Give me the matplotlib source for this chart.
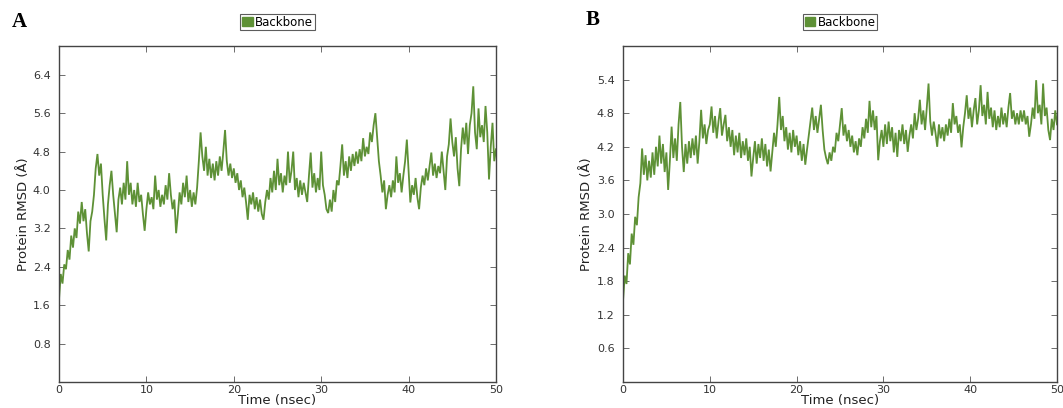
import numpy as np
import matplotlib
matplotlib.use("Agg")
import matplotlib.pyplot as plt
from matplotlib.patches import Patch

# Time axis (ns), sampled every 0.2 ns
time_ns = np.linspace(0, 50, 251)

# Panel A backbone RMSD (Å)
rmsd_a = [
    1.72, 2.25, 2.05, 2.45, 2.35, 2.75, 2.55, 3.05, 2.80, 3.20,
    3.00, 3.55, 3.30, 3.75, 3.35, 3.60, 3.10, 2.72, 3.35, 3.55,
    3.90, 4.45, 4.75, 4.30, 4.55, 3.90, 3.40, 2.95, 3.70, 4.10,
    4.40, 3.90, 3.50, 3.12, 3.80, 4.05, 3.70, 4.15, 3.80, 4.60,
    3.90, 4.15, 3.70, 4.00, 3.65, 4.15, 3.75, 3.90, 3.50, 3.15,
    3.60, 3.95, 3.70, 3.85, 3.60, 4.30, 3.80, 4.00, 3.65, 3.90,
    3.70, 4.10, 3.80, 4.35, 3.90, 3.60, 3.80, 3.10, 3.50, 3.95,
    3.70, 4.15, 3.85, 4.30, 3.75, 4.00, 3.65, 3.95, 3.70, 4.05,
    4.60, 5.20, 4.70, 4.40, 4.90, 4.30, 4.65, 4.25, 4.55, 4.20,
    4.60, 4.30, 4.70, 4.40, 4.80, 5.25, 4.60, 4.30, 4.55, 4.25,
    4.45, 4.15, 4.35, 4.00, 4.20, 3.85, 4.05, 3.75, 3.38, 3.90,
    3.70, 3.95, 3.60, 3.85, 3.55, 3.80, 3.50, 3.38, 3.75, 4.00,
    3.80, 4.25, 3.95, 4.40, 4.00, 4.65, 4.10, 4.35, 3.95, 4.30,
    4.10, 4.80, 4.15, 4.40, 4.80, 4.00, 4.25, 3.85, 4.20, 3.90,
    4.15, 3.95, 3.75, 4.30, 4.78, 4.05, 4.35, 3.95, 4.25, 4.00,
    4.80, 4.10, 3.90, 3.60, 3.52, 3.80, 3.55, 4.00, 3.75, 4.20,
    4.10, 4.50, 4.95, 4.30, 4.60, 4.25, 4.70, 4.40, 4.75, 4.50,
    4.80, 4.55, 4.85, 4.60, 5.08, 4.70, 4.90, 4.75, 5.20, 5.00,
    5.35, 5.60, 5.10, 4.60, 4.30, 3.95, 4.20, 3.60, 3.90, 4.10,
    3.85, 4.20, 3.95, 4.70, 4.15, 4.35, 3.95, 4.30, 4.60, 5.05,
    4.40, 3.74, 4.10, 3.90, 4.25, 3.85, 3.60, 4.05, 4.30, 4.10,
    4.45, 4.20, 4.50, 4.78, 4.30, 4.55, 4.25, 4.50, 4.35, 4.80,
    4.40, 4.00, 4.70, 4.95, 5.49, 5.00, 4.70, 5.10, 4.45, 4.08,
    4.85, 5.30, 4.95, 5.40, 4.75, 5.35, 5.60, 6.16, 5.20, 4.85,
    5.70, 5.10, 5.35, 5.00, 5.75, 5.20, 4.22, 4.90, 5.40, 4.60,
    4.85,
]

# Panel B backbone RMSD (Å)
rmsd_b = [
    1.45, 1.90, 1.75, 2.30, 2.10, 2.65, 2.45, 2.95, 2.80, 3.30,
    3.55, 4.17, 3.70, 4.05, 3.60, 3.95, 3.65, 4.10, 3.70, 4.20,
    3.85, 4.40, 3.90, 4.25, 3.75, 4.10, 3.43, 3.95, 4.56, 4.00,
    4.35, 3.95, 4.60, 5.00, 4.20, 3.75, 4.25, 3.90, 4.30, 4.00,
    4.35, 4.05, 4.40, 3.90, 4.30, 4.86, 4.35, 4.60, 4.25, 4.50,
    4.60, 4.92, 4.45, 4.75, 4.35, 4.65, 4.89, 4.40, 4.60, 4.77,
    4.30, 4.55, 4.20, 4.50, 4.05, 4.40, 4.10, 4.45, 4.00, 4.30,
    4.05, 4.35, 3.95, 4.20, 3.67, 4.00, 4.30, 3.90, 4.25, 4.00,
    4.35, 3.95, 4.25, 3.85, 4.15, 3.76, 4.10, 4.45, 4.20, 4.60,
    5.09, 4.50, 4.75, 4.30, 4.55, 4.15, 4.45, 4.10, 4.50, 4.20,
    4.40, 4.05, 4.30, 3.95, 4.25, 3.88, 4.15, 4.40, 4.65, 4.90,
    4.50, 4.75, 4.45, 4.70, 4.95, 4.50, 4.15, 4.00, 3.89, 4.10,
    3.95, 4.20, 4.10, 4.45, 4.30, 4.60, 4.89, 4.40, 4.60, 4.30,
    4.50, 4.20, 4.40, 4.10, 4.30, 4.05, 4.35, 4.20, 4.55, 4.35,
    4.70, 4.45, 5.02, 4.55, 4.85, 4.50, 4.75, 3.96, 4.30, 4.50,
    4.20, 4.60, 4.25, 4.65, 4.30, 4.55, 4.10, 4.45, 4.02, 4.50,
    4.30, 4.60, 4.25, 4.50, 4.11, 4.40, 4.60, 4.35, 4.80, 4.50,
    4.70, 5.04, 4.60, 4.85, 4.50, 4.90, 5.33, 4.65, 4.40, 4.65,
    4.45, 4.20, 4.60, 4.35, 4.55, 4.30, 4.60, 4.40, 4.70, 4.45,
    4.98, 4.60, 4.75, 4.45, 4.60, 4.19, 4.55, 4.80, 5.12, 4.70,
    4.90, 4.55, 4.85, 5.07, 4.60, 4.85, 5.30, 4.75, 4.95, 4.60,
    5.18, 4.70, 4.90, 4.55, 4.85, 4.50, 4.75, 4.55, 4.90, 4.60,
    4.80, 4.55, 4.90, 5.16, 4.70, 4.85, 4.60, 4.80, 4.60, 4.85,
    4.65, 4.85, 4.60, 4.75, 4.38, 4.60, 4.90, 4.70, 5.39, 4.80,
    4.95, 4.60, 5.33, 4.75, 4.90, 4.50, 4.32, 4.70, 4.50, 4.85,
    4.60,
]

x_ticks = [0, 10, 20, 30, 40, 50]
yticks_a = [0.8, 1.6, 2.4, 3.2, 4.0, 4.8, 5.6, 6.4]
yticks_b = [0.6, 1.2, 1.8, 2.4, 3.0, 3.6, 4.2, 4.8, 5.4]
panel_labels = ["A", "B"]
series_name = "Backbone"

line_color = "#5e9136"

W, H = 1063, 408
fig = plt.figure(figsize=(W / 100, H / 100), dpi=100)

axA = fig.add_axes([59 / W, (H - 382) / H, 437 / W, 336 / H])
axB = fig.add_axes([623 / W, (H - 382) / H, 434 / W, 336 / H])

panels = [
    (axA, rmsd_a, 7.0, yticks_a, 29 / 437),
    (axB, rmsd_b, 6.0, yticks_b, 30 / 434),
]

for (ax, data, ymax, yt, lab_off), lab in zip(panels, panel_labels):
    ax.plot(time_ns, data, color=line_color, lw=1.3, solid_joinstyle="miter")
    ax.set_xlim(0, 50)
    ax.set_ylim(0, ymax)
    ax.set_xticks(x_ticks)
    ax.set_xticklabels([str(v) for v in x_ticks])
    ax.set_yticks(yt)
    ax.set_yticklabels(["{:.1f}".format(v) for v in yt])
    ax.tick_params(direction="in", length=4, width=0.6, top=True, right=True,
                   labelsize=8, colors="#555555", labelcolor="#333333")
    ax.tick_params(axis="x", pad=2.5)
    ax.tick_params(axis="y", pad=6)
    for sp in ax.spines.values():
        sp.set_color("#444444")
        sp.set_linewidth(1.0)
    ax.set_xlabel("Time (nsec)", fontsize=9.5, color="#222222", labelpad=-1)
    ax.set_ylabel("Protein RMSD (Å)", fontsize=9.5, color="#222222")
    ax.yaxis.set_label_coords(-lab_off, 0.5)
    leg = ax.legend(handles=[Patch(facecolor=line_color, edgecolor=line_color, label=series_name)],
                    loc="center", bbox_to_anchor=(0.5, 1.071), fontsize=8.5,
                    frameon=True, fancybox=False, handlelength=0.9, handleheight=0.7,
                    handletextpad=0.2, borderpad=0.15, borderaxespad=0)
    leg.get_frame().set_edgecolor("#333333")
    leg.get_frame().set_linewidth(0.8)

fig.text(12 / W, 1 - 22 / H, panel_labels[0], fontsize=15, fontweight="bold",
         family="Liberation Serif", va="center", ha="left")
fig.text(586 / W, 1 - 20 / H, panel_labels[1], fontsize=15, fontweight="bold",
         family="Liberation Serif", va="center", ha="left")

fig.savefig("out.png", dpi=100)
